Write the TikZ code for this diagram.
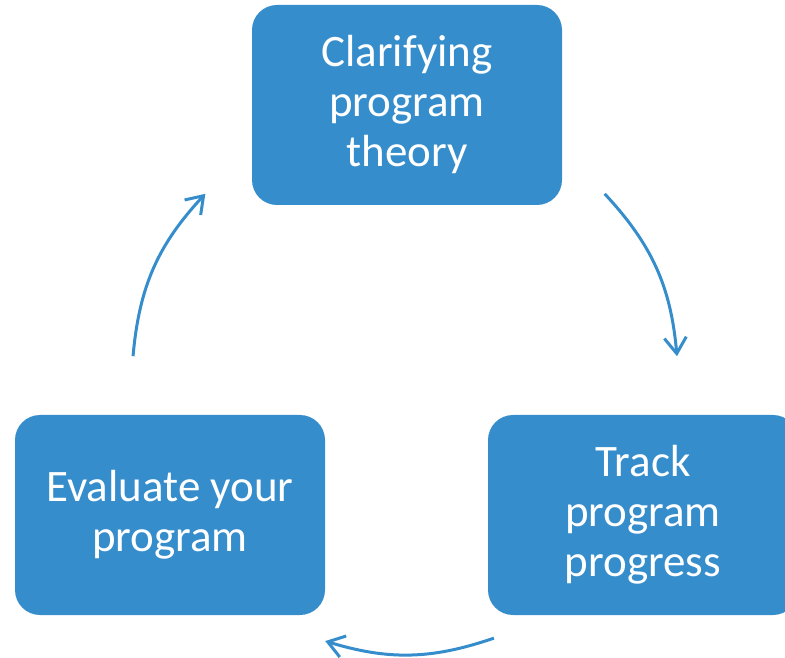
\documentclass[tikz,border=0pt]{standalone}
\usepackage{fontspec}
\setmainfont{Carlito}
\usepackage{tikz}
\usetikzlibrary{arrows.meta}
\definecolor{cycleblue}{RGB}{54,141,204}
\tikzset{font=\fontsize{45}{50}\selectfont}
\tikzset{stage/.style={rectangle, rounded corners=25pt, fill=cycleblue, text=white,
    minimum width=310pt, minimum height=200pt, inner sep=0pt, align=center}}
\tikzset{cyclearrow/.style={draw=cycleblue, line width=3pt,
    -{Straight Barb[length=16pt,width=22pt,line width=3pt]}}}

\begin{document}
\begin{tikzpicture}[x=1pt,y=1pt]
  \clip (0,0) rectangle (785,657);

  \node[stage] (theory) at (407,552) {Clarifying\\program\\theory};
  \node[stage] (track) at (643,142) {Track\\program\\progress};
  \node[stage] (evaluate) at (170,142) {Evaluate your\\program};

  % arcs round the middle of the cycle
  \coordinate (mid) at (405,277);
  \coordinate (r1) at ([shift={(43:273)}]mid);
  \coordinate (r2) at ([shift={(5:273)}]mid);
  \coordinate (b1) at ([shift={(-71:273)}]mid);
  \coordinate (b2) at ([shift={(-107:273)}]mid);
  \coordinate (l1) at ([shift={(175:273)}]mid);
  \coordinate (l2) at ([shift={(137:273)}]mid);

  \draw[cyclearrow] (r1) to[bend left=19] (r2);
  \draw[cyclearrow] (b1) to[bend left=18] (b2);
  \draw[cyclearrow] (l1) to[bend left=19] (l2);
\end{tikzpicture}
\end{document}
